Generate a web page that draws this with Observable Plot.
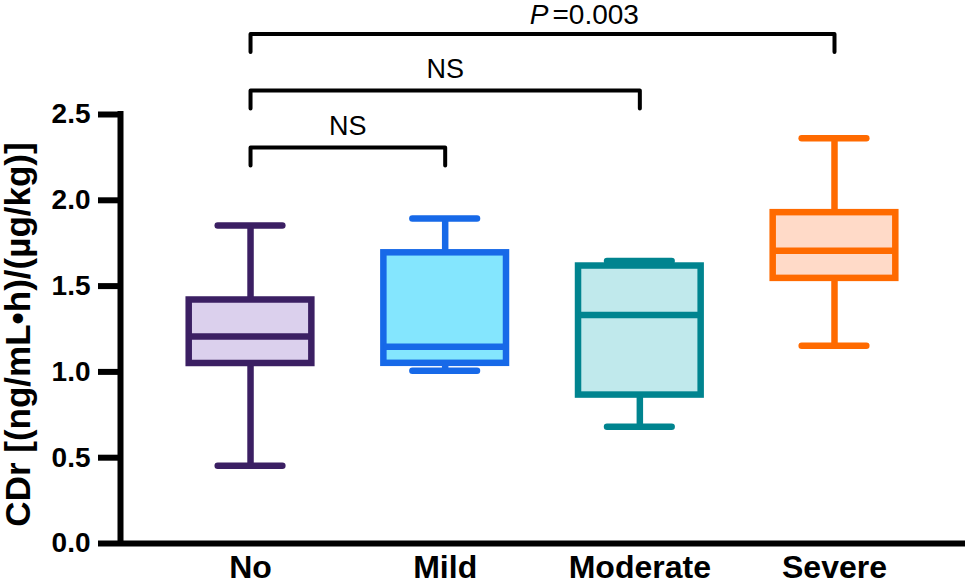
<!DOCTYPE html>
<html><head><meta charset="utf-8">
<script src="https://cdn.jsdelivr.net/npm/d3@7"></script>
<script src="https://cdn.jsdelivr.net/npm/@observablehq/plot@0.6"></script>
<style>body{margin:0;background:#fff} svg{display:block}</style>
</head><body><div id="chart"></div>
<script>
const categories = ["No", "Mild", "Moderate", "Severe"];
const whiskerLow = [0.453, 1.006, 0.680, 1.152];
const q1 = [1.049, 1.050, 0.865, 1.545];
const median = [1.207, 1.146, 1.332, 1.706];
const q3 = [1.419, 1.694, 1.617, 1.928];
const whiskerHigh = [1.853, 1.894, 1.646, 2.361];
const strokeColors = ["#3b1f63", "#1769e8", "#00848f", "#ff6a00"];
const fillColors = ["#dbd0ed", "#84e6fe", "#c0e9ec", "#ffdac8"];
const yTicks = [0, 0.5, 1.0, 1.5, 2.0, 2.5];
const yLabel = "CDr [(ng/mL•h)/(µg/kg)]";
const compFrom = [0, 0, 0];
const compTo = [1, 2, 3];
const compLabels = ["NS", "NS", "P=0.003"];
const compLevel = [2.308, 2.640, 2.969];
const compDrop = 0.105;

const rows = categories.map((c, i) => ({
  i, name: c, lo: whiskerLow[i], q1: q1[i], med: median[i], q3: q3[i], hi: whiskerHigh[i],
  stroke: strokeColors[i], fill: fillColors[i]
}));
const bracketPts = [];
compFrom.forEach((f, k) => {
  const t = compTo[k], y = compLevel[k];
  bracketPts.push({k, x: f, y: y - compDrop}, {k, x: f, y}, {k, x: t, y}, {k, x: t, y: y - compDrop});
});
const comps = compFrom.map((f, k) => ({k, mid: (f + compTo[k]) / 2, y: compLevel[k], label: compLabels[k]}));

const xDom = [-0.668, 3.673];
const bw = 0.315, cw = 0.166, sw = 6.5;

const plot = Plot.plot({
  width: 965, height: 581,
  marginLeft: 120, marginRight: 0, marginTop: 0, marginBottom: 38,
  x: {domain: xDom},
  y: {domain: [0, 543 / 171.6]},
  color: {type: "identity"},
  style: {fontFamily: "'Liberation Sans', Arial, sans-serif", background: "white", color: "black", overflow: "visible"},
  marks: [
    Plot.ruleX(rows, {x: "i", y1: "q3", y2: "hi", stroke: "stroke", strokeWidth: sw}),
    Plot.ruleX(rows, {x: "i", y1: "lo", y2: "q1", stroke: "stroke", strokeWidth: sw}),
    Plot.rect(rows, {x1: d => d.i - bw, x2: d => d.i + bw, y1: "q1", y2: "q3", fill: "fill", stroke: "stroke", strokeWidth: sw}),
    Plot.ruleY(rows, {x1: d => d.i - bw, x2: d => d.i + bw, y: "med", stroke: "stroke", strokeWidth: sw}),
    Plot.ruleY(rows, {x1: d => d.i - cw, x2: d => d.i + cw, y: "hi", stroke: "stroke", strokeWidth: sw, strokeLinecap: "round"}),
    Plot.ruleY(rows, {x1: d => d.i - cw, x2: d => d.i + cw, y: "lo", stroke: "stroke", strokeWidth: sw, strokeLinecap: "round"}),
    Plot.line(bracketPts, {x: "x", y: "y", z: "k", stroke: "black", strokeWidth: 4}),
    Plot.text(comps.filter(d => d.label === "NS"), {x: "mid", y: d => d.y, text: "label", dy: -32, lineAnchor: "top", fontSize: 27, fill: "black"}),
    Plot.text(comps.filter(d => d.label !== "NS"), {x: "mid", y: d => d.y, text: () => "P", dy: -29.5, dx: 6, textAnchor: "end", lineAnchor: "top", fontSize: 28, fontStyle: "italic", fill: "black"}),
    Plot.text(comps.filter(d => d.label !== "NS"), {x: "mid", y: d => d.y, text: d => d.label.slice(1), dy: -29.5, dx: 10, textAnchor: "start", lineAnchor: "top", fontSize: 28, fill: "black", letterSpacing: 2}),
    Plot.ruleX([xDom[0]], {y1: 0, y2: 2.5, stroke: "black", strokeWidth: 6, strokeLinecap: "square"}),
    Plot.ruleY([0], {x1: xDom[0], x2: xDom[1], stroke: "black", strokeWidth: 6}),
    Plot.axisY({ticks: yTicks, tickFormat: d => d.toFixed(1), tickSize: 22, tickPadding: 8, fontSize: 28, fontWeight: "bold", strokeWidth: 6, label: null}),
    Plot.axisX({ticks: [0, 1, 2, 3], tickFormat: i => categories[i], tickSize: 0, tickPadding: 12, fontSize: 32, fontWeight: "bold", label: null}),
    Plot.text([yLabel], {x: xDom[0], y: 1.218, text: d => d, rotate: -90, dx: -102, fontSize: 35, fontWeight: "bold", textAnchor: "middle", lineAnchor: "middle", fill: "black"})
  ]
});
document.getElementById("chart").appendChild(plot);
</script>
</body></html>
